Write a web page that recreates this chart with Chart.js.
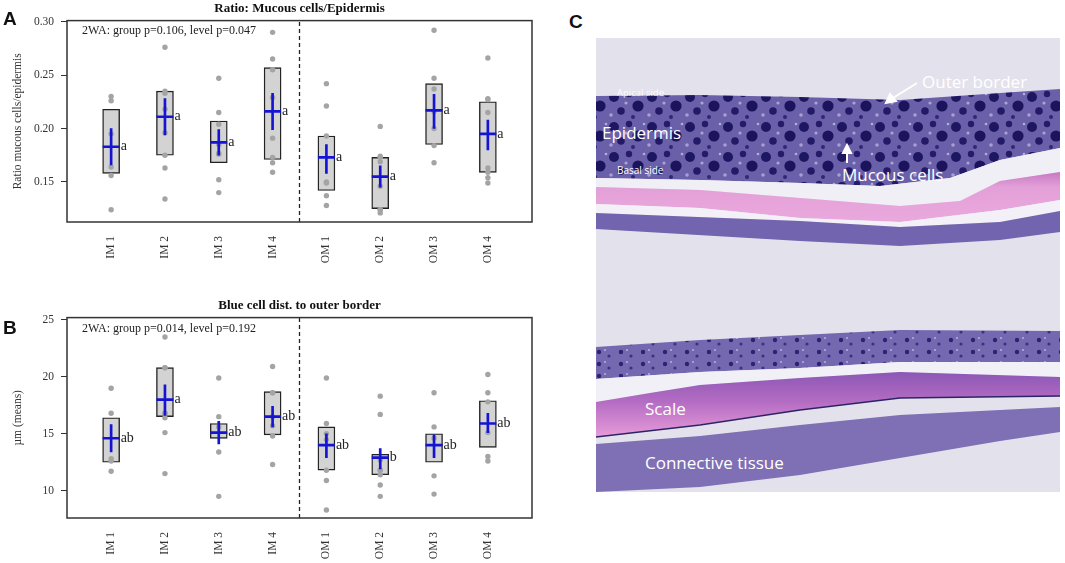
<!DOCTYPE html>
<html>
<head>
<meta charset="utf-8">
<script src="https://cdn.jsdelivr.net/npm/chart.js@4.4.1/dist/chart.umd.min.js"></script>
<style>
  body { margin: 0; background: #fff; width: 1065px; height: 563px; position: relative; overflow: hidden; }
  canvas { position: absolute; left: 0; }
  #chartA { top: 0; }
  #chartB { top: 270px; }
  .panel { position: absolute; font-family: "Liberation Sans", Arial, sans-serif; font-weight: bold; font-size: 19px; color: #111; }
  #photo { position: absolute; left: 0; top: 0; }
</style>
</head>
<body>
<canvas id="chartA" width="545" height="265"></canvas>
<canvas id="chartB" width="545" height="293"></canvas>
<div class="panel" style="left:3px; top:8px;">A</div>
<div class="panel" style="left:3px; top:317px;">B</div>
<div class="panel" style="left:569px; top:11px;">C</div>

<svg id="photo" width="1065" height="563">
  <defs>
    <pattern id="cells" width="38" height="30" patternUnits="userSpaceOnUse">
      <rect width="38" height="30" fill="#6a5fa9"/>
      <circle cx="6" cy="7" r="5" fill="#1d1660"/>
      <circle cx="21" cy="4" r="3.2" fill="#241b69"/>
      <circle cx="30" cy="16" r="5.6" fill="#1b145c"/>
      <circle cx="13" cy="21" r="3.8" fill="#221a66"/>
      <circle cx="25" cy="27" r="2" fill="#2f2674"/>
      <circle cx="3" cy="25" r="1.8" fill="#a7a1d2"/>
      <circle cx="18" cy="13" r="1.6" fill="#aaa4d4"/>
      <circle cx="36" cy="4" r="1.3" fill="#b3aed9"/>
    </pattern>
    <pattern id="smallcells" width="22" height="12" patternUnits="userSpaceOnUse">
      <rect width="22" height="12" fill="#7468b0"/>
      <circle cx="5" cy="4" r="2.2" fill="#2b2272"/>
      <circle cx="15" cy="8" r="1.6" fill="#3a3180"/>
      <circle cx="11" cy="2" r="1" fill="#b8b2dc"/>
    </pattern>
    <linearGradient id="scaleTop" x1="0" y1="0" x2="0" y2="1">
      <stop offset="0" stop-color="#c877c4"/>
      <stop offset="0.3" stop-color="#e3a0d8"/>
      <stop offset="1" stop-color="#eaa9dd"/>
    </linearGradient>
    <linearGradient id="scaleLow" x1="0" y1="0" x2="0" y2="1">
      <stop offset="0" stop-color="#8b57b5"/>
      <stop offset="0.45" stop-color="#b46cc3"/>
      <stop offset="1" stop-color="#e79bd8"/>
    </linearGradient>
  </defs>
  <rect x="596" y="38" width="464" height="454" fill="#e3e2ec"/>
  <!-- upper epidermis -->
  <polygon fill="url(#cells)" points="596,96 700,95 800,97 900,100 1000,93 1060,89 1060,148 1000,160 950,178 880,186 800,183 700,180 596,178"/>
  <polygon fill="#f1eff6" points="596,178 700,180 800,183 880,186 950,178 1000,160 1060,148 1060,172 1000,181 960,201 900,206 800,198 700,190 596,187"/>
  <!-- upper scale -->
  <polygon fill="url(#scaleTop)" points="596,187 700,190 800,198 900,206 960,201 1000,181 1060,172 1060,200 1000,210 900,222 800,218 700,208 596,204"/>
  <polygon fill="#f3f1f7" points="596,204 700,208 800,218 900,222 1000,210 1060,200 1060,211 1000,222 900,227 800,221 596,213"/>
  <polygon fill="#7264ae" points="596,213 800,221 900,227 1000,222 1060,211 1060,232 1000,240 900,246 800,241 596,229"/>
  <!-- lower epidermis -->
  <polygon fill="url(#smallcells)" points="596,347 700,340 800,335 900,330 1060,331 1060,362 900,362 800,368 700,372 596,379"/>
  <polygon fill="#f2f0f7" points="596,379 700,372 800,368 900,362 1060,362 1060,377 900,372 800,378 700,385 650,393 596,402"/>
  <!-- lower scale -->
  <polygon fill="url(#scaleLow)" points="596,402 650,393 700,385 800,378 900,372 1060,377 1060,396 900,398 800,410 700,425 596,437"/>
  <polyline fill="none" stroke="#2d2466" stroke-width="1.5" points="596,437 700,425 800,410 900,398 1060,396"/>
  <!-- connective tissue -->
  <polygon fill="#7f6fb4" points="596,444 700,436 800,425 900,415 1060,407 1060,432 1000,441 900,458 800,475 700,487 596,492"/>
  <g fill="#ffffff" font-family="'Open Sans', 'Noto Sans', sans-serif">
    <text x="617" y="96" font-size="9.5" fill-opacity="0.85">Apical side</text>
    <text x="602" y="139" font-size="17">Epidermis</text>
    <text x="617" y="174" font-size="10">Basal side</text>
    <text x="922" y="88" font-size="17">Outer border</text>
    <text x="842" y="181" font-size="17">Mucous cells</text>
    <text x="645" y="415" font-size="17">Scale</text>
    <text x="645" y="469" font-size="17">Connective tissue</text>
  </g>
  <g stroke="#ffffff" stroke-width="2" fill="#ffffff">
    <line x1="917" y1="83" x2="893" y2="98"/>
    <polygon points="886,103 890,94 896,101"/>
    <line x1="847" y1="163" x2="847" y2="152"/>
    <polygon points="847,145 843,153 851,153"/>
  </g>
</svg>

<script>
/* 共通データ */
const groups = ["IM 1", "IM 2", "IM 3", "IM 4", "OM 1", "OM 2", "OM 3", "OM 4"];
const xLimits = [0.18, 8.82];
const dividerAt = 4.5;

/* A: Mucous cells / Epidermis */
const ratioPoints = [
  [0.230, 0.226, 0.195, 0.164, 0.156, 0.124],
  [0.276, 0.235, 0.233, 0.218, 0.196, 0.175, 0.163, 0.134],
  [0.247, 0.215, 0.204, 0.185, 0.177, 0.176, 0.152, 0.140],
  [0.290, 0.265, 0.255, 0.229, 0.191, 0.173, 0.168, 0.159],
  [0.242, 0.221, 0.193, 0.150, 0.149, 0.137, 0.128],
  [0.202, 0.174, 0.173, 0.169, 0.146, 0.124, 0.124, 0.121],
  [0.292, 0.247, 0.237, 0.216, 0.200, 0.184, 0.168],
  [0.266, 0.228, 0.227, 0.215, 0.163, 0.159, 0.154, 0.149]
];
const ratioBoxLow  = [0.158, 0.175, 0.168, 0.171, 0.142, 0.125, 0.185, 0.159];
const ratioBoxHigh = [0.218, 0.235, 0.207, 0.257, 0.193, 0.173, 0.242, 0.225];
const ratioMean    = [0.183, 0.211, 0.187, 0.216, 0.173, 0.155, 0.217, 0.195];
const ratioSeLow   = [0.166, 0.194, 0.175, 0.199, 0.158, 0.145, 0.200, 0.180];
const ratioSeHigh  = [0.200, 0.228, 0.199, 0.233, 0.185, 0.165, 0.232, 0.208];
const ratioLetters = ["a", "a", "a", "a", "a", "a", "a", "a"];
const ratioLimits  = [0.1125, 0.301];
const ratioTicks   = [0.15, 0.20, 0.25, 0.30];

/* B: Blue cell dist. to outer border */
const distPoints = [
  [19.0, 16.8, 12.8, 12.6, 11.7],
  [23.5, 20.8, 20.8, 16.8, 16.8, 16.4, 15.1, 11.5],
  [19.9, 16.5, 15.6, 13.4, 9.5],
  [20.9, 18.6, 18.6, 16.5, 15.7, 14.8, 12.3],
  [19.9, 15.9, 15.0, 14.5, 11.8, 10.9, 8.3],
  [18.3, 16.7, 12.7, 11.8, 11.8, 11.4, 10.5, 9.5],
  [18.6, 15.6, 14.6, 11.3, 9.7],
  [20.2, 18.6, 17.8, 15.1, 13.0, 12.6]
];
const distBoxLow  = [12.5, 16.5, 14.6, 14.9, 11.8, 11.4, 12.5, 13.8];
const distBoxHigh = [16.4, 20.8, 15.9, 18.7, 15.6, 13.2, 15.0, 17.9];
const distMean    = [14.6, 18.0, 15.1, 16.5, 14.0, 12.9, 14.0, 15.9];
const distSeLow   = [13.4, 16.6, 14.1, 15.6, 12.9, 11.9, 12.9, 15.1];
const distSeHigh  = [15.8, 19.3, 16.1, 17.4, 15.0, 13.7, 14.9, 16.8];
const distLetters = ["ab", "a", "ab", "ab", "ab", "b", "ab", "ab"];
const distLimits  = [7.6, 25.2];
const distTicks   = [10, 15, 20, 25];

const serif = "'Liberation Serif', 'Times New Roman', serif";
const boxWidth = 17;


/* 枠・文字・区切り線 */
function annotatePlugin(letters, means, note, notePos) {
  return {
    id: "annotate",
    afterDatasetsDraw(chart) {
      const { ctx, chartArea: a, scales: { x, y } } = chart;
      ctx.save();

      ctx.fillStyle = "#222";
      ctx.font = "14px " + serif;
      ctx.textBaseline = "middle";
      ctx.textAlign = "left";
      letters.forEach((t, i) => {
        ctx.fillText(t, x.getPixelForValue(i + 1) + boxWidth / 2 + 1, y.getPixelForValue(means[i]));
      });

      ctx.font = "12px " + serif;
      ctx.fillText(note, x.getPixelForValue(notePos[0]), y.getPixelForValue(notePos[1]));

      ctx.strokeStyle = "#333";
      ctx.lineWidth = 1.5;
      ctx.strokeRect(a.left, a.top, a.right - a.left, a.bottom - a.top);
      ctx.restore();
    }
  };
}


function makePanel(id, o) {

  const boxes = o.boxLow.map((v, i) => ({ x: i + 1, y: [v, o.boxHigh[i]] }));
  const seBars = o.seLow.map((v, i) => ({ x: i + 1, y: [v, o.seHigh[i]] }));
  const means = o.mean.map((v, i) => ({ x: i + 1, y: v }));
  const pts = [];
  o.points.forEach((arr, i) => arr.forEach(v => pts.push({ x: i + 1, y: v })));

  return new Chart(document.getElementById(id), {
    type: "bar",
    data: {
      datasets: [
        {
          type: "line",
          data: [{ x: dividerAt, y: o.limits[0] }, { x: dividerAt, y: o.limits[1] }],
          borderColor: "#222",
          borderWidth: 1.3,
          borderDash: [4, 3],
          pointRadius: 0,
          order: 5
        },
        {
          data: boxes,
          backgroundColor: "#d3d3d3",
          borderColor: "#222",
          borderWidth: 1.4,
          borderSkipped: false,
          barThickness: boxWidth,
          grouped: false,
          order: 4
        },
        {
          type: "scatter",
          data: pts,
          pointRadius: 2.7,
          pointBackgroundColor: "#a4a4a4",
          pointBorderWidth: 0,
          order: 3
        },
        {
          data: seBars,
          backgroundColor: "#1414d2",
          borderWidth: 0,
          barThickness: 2,
          grouped: false,
          order: 2
        },
        {
          type: "scatter",
          data: means,
          pointStyle: "line",
          pointRadius: boxWidth / 2,
          pointBorderColor: "#1414d2",
          pointBorderWidth: 2.6,
          order: 1
        }
      ]
    },
    options: {
      responsive: false,
      animation: false,
      events: [],
      layout: { padding: { left: 0, right: 13, top: 0, bottom: 0 } },
      plugins: {
        legend: { display: false },
        tooltip: { enabled: false },
        title: {
          display: true,
          text: o.title,
          fullSize: false,
          color: "#111",
          font: { family: serif, size: 13, weight: "bold" },
          padding: o.titlePad
        }
      },
      scales: {
        x: {
          type: "linear",
          offset: false,
          min: xLimits[0],
          max: xLimits[1],
          afterBuildTicks: s => { s.ticks = groups.map((g, i) => ({ value: i + 1 })); },
          afterFit: s => { s.height = o.xHeight; },
          grid: { display: false, drawTicks: false },
          border: { display: false },
          ticks: {
            autoSkip: false,
            minRotation: 90,
            maxRotation: 90,
            padding: 14,
            color: "#333",
            font: { family: serif, size: 11.5 },
            callback: v => groups[v - 1]
          }
        },
        y: {
          min: o.limits[0],
          max: o.limits[1],
          afterBuildTicks: s => { s.ticks = o.ticks.map(v => ({ value: v })); },
          afterFit: s => { s.width = 67; },
          grid: { drawOnChartArea: false, drawTicks: true, tickLength: 6, color: "#333" },
          border: { display: false },
          ticks: {
            padding: 7,
            color: "#333",
            font: { family: serif, size: 11.5 },
            callback: o.tickFormat
          },
          title: {
            display: true,
            text: o.yTitle,
            color: "#333",
            font: { family: serif, size: 11.5 },
            padding: { top: 11, bottom: 0 }
          }
        }
      }
    },
    plugins: [annotatePlugin(o.letters, o.mean, o.note, o.notePos)]
  });
}


/* 描画 */
makePanel("chartA", {
  title: "Ratio: Mucous cells/Epidermis",
  titlePad: { top: 1, bottom: 4 },
  yTitle: "Ratio mucous cells/epidermis",
  note: "2WA: group p=0.106, level p=0.047",
  notePos: [0.46, 0.2918],
  points: ratioPoints,
  boxLow: ratioBoxLow,
  boxHigh: ratioBoxHigh,
  mean: ratioMean,
  seLow: ratioSeLow,
  seHigh: ratioSeHigh,
  letters: ratioLetters,
  limits: ratioLimits,
  ticks: ratioTicks,
  tickFormat: v => v.toFixed(2),
  xHeight: 43
});

makePanel("chartB", {
  title: "Blue cell dist. to outer border",
  titlePad: { top: 28, bottom: 4 },
  yTitle: "µm (means)",
  note: "2WA: group p=0.014, level p=0.192",
  notePos: [0.46, 24.2],
  points: distPoints,
  boxLow: distBoxLow,
  boxHigh: distBoxHigh,
  mean: distMean,
  seLow: distSeLow,
  seHigh: distSeHigh,
  letters: distLetters,
  limits: distLimits,
  ticks: distTicks,
  tickFormat: v => String(v),
  xHeight: 45
});
</script>
</body>
</html>
